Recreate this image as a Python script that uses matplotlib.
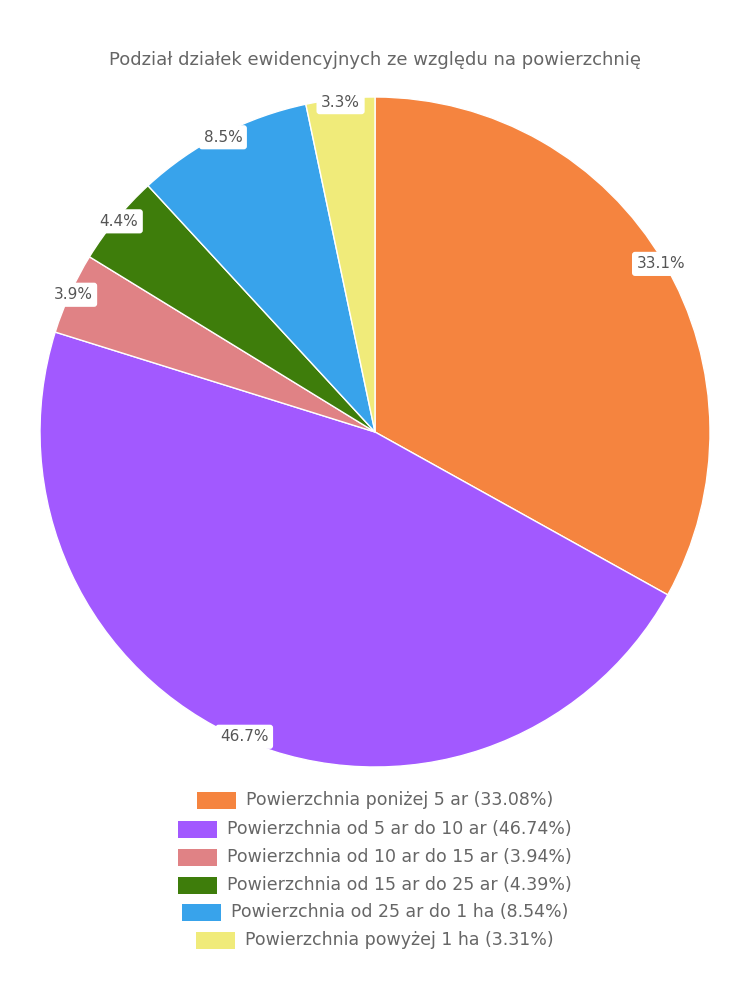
import matplotlib
matplotlib.use("Agg")
import numpy as np
from matplotlib import pyplot as plt
from matplotlib.patches import Rectangle

plt.rcParams['font.family'] = ['DejaVu Sans']

title = "Podział działek ewidencyjnych ze względu na powierzchnię"
categories = ["Powierzchnia poniżej 5 ar",
              "Powierzchnia od 5 ar do 10 ar",
              "Powierzchnia od 10 ar do 15 ar",
              "Powierzchnia od 15 ar do 25 ar",
              "Powierzchnia od 25 ar do 1 ha",
              "Powierzchnia powyżej 1 ha"]
values = [33.08, 46.74, 3.94, 4.39, 8.54, 3.31]
colors = ["#F5843F", "#A259FF", "#E08285", "#3E7D0B", "#38A3EB", "#F0EB7A"]

fig = plt.figure(figsize=(7.5, 10), dpi=100)
ax = fig.add_axes([40 / 750, 233 / 1000, 670 / 750, 670 / 1000])

wedges, _ = ax.pie(values, colors=colors, startangle=90, counterclock=False,
                   radius=1.0, wedgeprops=dict(edgecolor="white", linewidth=1))
ax.set_xlim(-1, 1)
ax.set_ylim(-1, 1)
ax.set_aspect("auto")
ax.axis("off")

# percentage labels sitting on the rim
total = sum(values)
for w, v in zip(wedges, values):
    ang = np.deg2rad((w.theta1 + w.theta2) / 2)
    x, y = 0.99 * np.cos(ang), 0.99 * np.sin(ang)
    ax.text(x, y, f"{v / total * 100:.1f}%", ha="center", va="center",
            fontsize=11, color="#555555",
            bbox=dict(boxstyle="round,pad=0.3,rounding_size=0.2",
                      fc="white", ec="none"))

fig.text(0.5, 1 - 60 / 1000, title, ha="center", va="center",
         fontsize=13, color="#666666")

# legend, each row centred on its own
fig.canvas.draw()
renderer = fig.canvas.get_renderer()
row_y = [800, 829, 857, 885, 912, 940]
box_w, box_h, gap = 39, 17, 10
for name, v, c, yp in zip(categories, values, colors, row_y):
    t = fig.text(0, 1 - yp / 1000, f"{name} ({v:.2f}%)", ha="left",
                 va="center", fontsize=12.5, color="#666666")
    tw = t.get_window_extent(renderer).width
    full = box_w + gap + tw
    x0 = 375 - full / 2
    t.set_x((x0 + box_w + gap) / 750)
    fig.patches.append(Rectangle((x0 / 750, 1 - (yp + box_h / 2) / 1000),
                                 box_w / 750, box_h / 1000,
                                 transform=fig.transFigure, fc=c, ec="none"))

fig.savefig("out.png", dpi=100)
